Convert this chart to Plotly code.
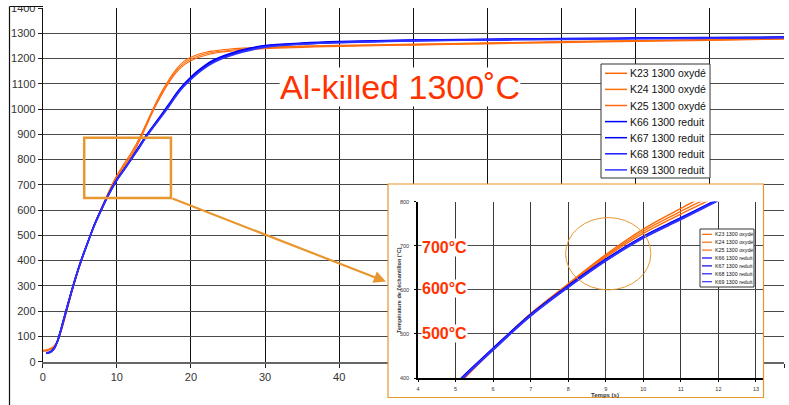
import plotly.graph_objects as go

W, H = 789, 405

# ---------------- data ----------------
time_s = [0, 0.5, 1, 1.5, 2, 3, 4, 5, 6, 7, 8, 9, 10, 11, 12, 13, 14, 15, 16, 17, 18, 19,
          20, 21, 22, 23, 24, 25, 27, 30, 35, 40, 50, 60, 70, 80, 90, 100]

k23_oxyde = [45, 47, 52, 62, 82, 176, 284, 381, 466, 546, 614, 680, 738, 785, 830, 882, 945, 1008,
             1066, 1115, 1157, 1188, 1205, 1217, 1225, 1230, 1234, 1237, 1241, 1245, 1249, 1252,
             1257, 1262, 1267, 1271, 1275, 1279]
k24_oxyde = [43, 45, 49, 60, 80, 174, 283, 380, 465, 545, 612, 677, 733, 778, 822, 876, 940, 1003,
             1060, 1109, 1150, 1180, 1198, 1210, 1219, 1225, 1229, 1232, 1237, 1242, 1247, 1250,
             1255, 1260, 1265, 1270, 1274, 1278]
k25_oxyde = [41, 43, 47, 57, 78, 172, 281, 378, 464, 544, 611, 674, 728, 772, 815, 870, 934, 998,
             1054, 1103, 1144, 1173, 1191, 1204, 1213, 1220, 1225, 1228, 1233, 1239, 1244, 1248,
             1253, 1258, 1263, 1268, 1272, 1277]
k66_reduit = [None, 36, 39, 52, 83, 186, 291, 386, 467, 544, 609, 669, 721, 763, 806, 852, 897, 937,
              977, 1018, 1061, 1097, 1127, 1153, 1175, 1193, 1206, 1217, 1235, 1251, 1261, 1267,
              1273, 1276, 1279, 1281, 1283, 1285]
k67_reduit = [None, 34, 38, 51, 82, 185, 290, 385, 466, 543, 608, 668, 720, 762, 805, 850, 895, 935,
              975, 1015, 1058, 1094, 1123, 1149, 1171, 1189, 1203, 1214, 1232, 1249, 1259, 1265,
              1272, 1275, 1278, 1280, 1282, 1284]
k68_reduit = [None, 35, 37, 50, 81, 184, 289, 384, 465, 542, 607, 667, 719, 761, 804, 848, 893, 933,
              972, 1012, 1055, 1091, 1120, 1146, 1168, 1186, 1200, 1211, 1229, 1247, 1258, 1264,
              1271, 1274, 1277, 1279, 1281, 1283]
k69_reduit = [None, 33, 36, 49, 80, 183, 288, 383, 464, 541, 606, 666, 718, 760, 803, 846, 891, 931,
              969, 1009, 1052, 1088, 1117, 1143, 1165, 1183, 1197, 1208, 1226, 1245, 1257, 1263,
              1270, 1273, 1276, 1278, 1280, 1282]

series_names = ["K23 1300 oxydé", "K24 1300 oxydé", "K25 1300 oxydé",
                "K66 1300 reduit", "K67 1300 reduit", "K68 1300 reduit", "K69 1300 reduit"]
series_values = [k23_oxyde, k24_oxyde, k25_oxyde, k66_reduit, k67_reduit, k68_reduit, k69_reduit]
series_colors = ["#FF6600", "#FF7008", "#FF6A10", "#0000FF", "#0000F0", "#1A1AFF", "#3030FF"]
series_is_blue = [False, False, False, True, True, True, True]

main_x_ticks = list(range(0, 101, 10))
main_y_ticks = list(range(0, 1401, 100))
inset_x_ticks = list(range(4, 14))
inset_y_ticks = [400, 500, 600, 700, 800]

title_text = "Al-killed 1300˚C"
inset_labels = ["700°C", "600°C", "500°C"]
inset_label_levels = [695, 603, 500]
inset_x_title = "Temps (s)"
inset_y_title = "Température de l'échantillon (°C)"

# -------------- helpers ---------------
def px(x):
    return x / W

def py(y):
    return 1 - y / H

FONT = "Liberation Sans, Arial, sans-serif"
ORANGE_BOX = "#E8962E"
RED_TXT = "#FF3300"

fig = go.Figure()

# main traces (orange first, blue on top)
for name, vals, col, blue in zip(series_names, series_values, series_colors, series_is_blue):
    fig.add_trace(go.Scatter(x=time_s, y=vals, name=name, mode="lines",
                             line=dict(color=col, width=1.6 if blue else 1.1, shape="spline"),
                             xaxis="x", yaxis="y", showlegend=False, hoverinfo="skip",
                             connectgaps=False))

# frame subplot for the inset (white background)
fig.add_trace(go.Scatter(x=[], y=[], xaxis="x2", yaxis="y2", showlegend=False, hoverinfo="skip"))

# inset traces
for name, vals, col, blue in zip(series_names, series_values, series_colors, series_is_blue):
    fig.add_trace(go.Scatter(x=time_s, y=vals, name=name, mode="lines",
                             line=dict(color=col, width=2.0 if blue else 1.4, shape="spline"),
                             xaxis="x3", yaxis="y3", showlegend=False, hoverinfo="skip"))

main_dom_x = [px(42.7), px(784)]
main_dom_y = [py(361.7), py(8)]
frame_dom_x = [px(388), px(763.5)]
frame_dom_y = [py(397.5), py(184)]
inset_dom_x = [px(418), px(763.5)]
inset_dom_y = [py(378), py(201.7)]

fig.update_layout(
    template="none",
    width=W, height=H, autosize=False,
    margin=dict(l=0, r=0, t=0, b=0),
    paper_bgcolor="white", plot_bgcolor="white",
    font=dict(family=FONT, color="#222"),
    showlegend=False,
    xaxis=dict(domain=main_dom_x, range=[0, 100], tickvals=main_x_ticks, showgrid=True,
               gridcolor="#111", gridwidth=1, zeroline=False, showline=True,
               linecolor="#666", linewidth=2, ticks="outside", ticklen=4, tickcolor="#222",
               tickfont=dict(size=11, color="#333"), anchor="y", fixedrange=True),
    yaxis=dict(domain=main_dom_y, range=[0, 1400], tickvals=main_y_ticks, showgrid=True,
               gridcolor="#4a4a4a", gridwidth=1.3, zeroline=False, showline=True,
               linecolor="#111", linewidth=1, ticks="outside", ticklen=4, tickcolor="#222",
               tickfont=dict(size=11, color="#333"), anchor="x", fixedrange=True),
    xaxis2=dict(domain=frame_dom_x, range=[0, 1], visible=False, anchor="y2", fixedrange=True),
    yaxis2=dict(domain=frame_dom_y, range=[0, 1], visible=False, anchor="x2", fixedrange=True),
    xaxis3=dict(domain=inset_dom_x, range=[4, 13.2], tickvals=inset_x_ticks, showgrid=True,
                gridcolor="#3a3a3a", gridwidth=1.2, zeroline=False, showline=True,
                linecolor="#000", linewidth=1.5, ticks="outside", ticklen=2, tickcolor="#000",
                tickfont=dict(size=5.5, color="#333"), anchor="y3", fixedrange=True,
                ticklabelstandoff=3),
    yaxis3=dict(domain=inset_dom_y, range=[400, 800], tickvals=inset_y_ticks, showgrid=True,
                gridcolor="#4a4a4a", gridwidth=1.4, zeroline=False, showline=True,
                linecolor="#000", linewidth=1.5, ticks="outside", ticklen=2, tickcolor="#000",
                tickfont=dict(size=5.5, color="#333"), anchor="x3", fixedrange=True,
                ticklabelstandoff=4),
)

shapes = []
annotations = []

# top crop strip and outer frame lines
shapes.append(dict(type="rect", xref="paper", yref="paper", x0=0, x1=1, y0=py(6), y1=1,
                   fillcolor="white", line=dict(width=0), layer="above"))
shapes.append(dict(type="line", xref="paper", yref="paper", x0=px(9.5), x1=px(9.5), y0=0, y1=py(6.5),
                   line=dict(color="#111", width=1.2), layer="above"))
shapes.append(dict(type="line", xref="paper", yref="paper", x0=px(9.5), x1=px(43), y0=py(6.5), y1=py(6.5),
                   line=dict(color="#111", width=1.2), layer="above"))

# zoom rectangle in the main chart
shapes.append(dict(type="rect", xref="x", yref="y", x0=5.6, x1=17.3, y0=648, y1=886,
                   line=dict(color=ORANGE_BOX, width=2.5), layer="above"))
# arrow from the rectangle to the inset
annotations.append(dict(xref="x", yref="y", x=46.3, y=317, axref="x", ayref="y", ax=17.3, ay=648,
                        text="", showarrow=True, arrowhead=2, arrowsize=1.1, arrowwidth=2.2,
                        arrowcolor=ORANGE_BOX, standoff=0, startstandoff=0))

# inset frame border
shapes.append(dict(type="rect", xref="paper", yref="paper", x0=frame_dom_x[0], x1=frame_dom_x[1],
                   y0=frame_dom_y[0], y1=frame_dom_y[1], line=dict(color=ORANGE_BOX, width=1.2),
                   layer="above"))
# ellipse in the inset
shapes.append(dict(type="circle", xref="x3", yref="y3", x0=7.93, x1=10.2, y0=600, y1=764,
                   line=dict(color=ORANGE_BOX, width=1), layer="above"))

# title
annotations.append(dict(xref="paper", yref="paper", x=px(400), y=py(87), text=title_text,
                        showarrow=False, xanchor="center", yanchor="middle",
                        font=dict(size=34, color=RED_TXT, family=FONT), bgcolor="white", borderpad=0))

# inset red level labels
for lab, lev in zip(inset_labels, inset_label_levels):
    annotations.append(dict(xref="x3", yref="y3", x=4.07, y=lev, text="<b>%s</b>" % lab,
                            showarrow=False, xanchor="left", yanchor="middle",
                            font=dict(size=16, color=RED_TXT, family=FONT), bgcolor="white",
                            borderpad=0))

# inset axis titles
annotations.append(dict(xref="paper", yref="paper", x=px(605), y=py(395), text="<b>%s</b>" % inset_x_title,
                        showarrow=False, xanchor="center", yanchor="middle",
                        font=dict(size=6, color="#333", family=FONT)))
annotations.append(dict(xref="paper", yref="paper", x=px(399), y=py(290), text="<b>%s</b>" % inset_y_title,
                        showarrow=False, xanchor="center", yanchor="middle", textangle=-90,
                        font=dict(size=5.5, color="#333", family=FONT)))

# legends (main and inset), drawn as boxes + swatches + text
def add_legend(x0, x1, y0, y1, row0, step, sw0, sw1, tx, fsize, swidth, bw):
    shapes.append(dict(type="rect", xref="paper", yref="paper", x0=px(x0), x1=px(x1),
                       y0=py(y1), y1=py(y0), fillcolor="white",
                       line=dict(color="#333", width=bw), layer="above"))
    for i, (name, col) in enumerate(zip(series_names, series_colors)):
        yy = row0 + i * step
        shapes.append(dict(type="line", xref="paper", yref="paper", x0=px(sw0), x1=px(sw1),
                           y0=py(yy), y1=py(yy), line=dict(color=col, width=swidth), layer="above"))
        annotations.append(dict(xref="paper", yref="paper", x=px(tx), y=py(yy), text=name,
                                showarrow=False, xanchor="left", yanchor="middle",
                                font=dict(size=fsize, color="#111", family=FONT)))

add_legend(601, 710, 64, 178, 73.3, 16.1, 605, 627, 628, 10.5, 1.5, 1)
add_legend(700, 754, 229, 287, 234.3, 7.9, 702, 712, 712.5, 5.3, 1.2, 1)

fig.update_layout(shapes=shapes, annotations=annotations)

fig.write_html("out.html", config={"displayModeBar": False},
               post_script="document.body.style.margin='0';document.body.style.overflow='hidden';")
